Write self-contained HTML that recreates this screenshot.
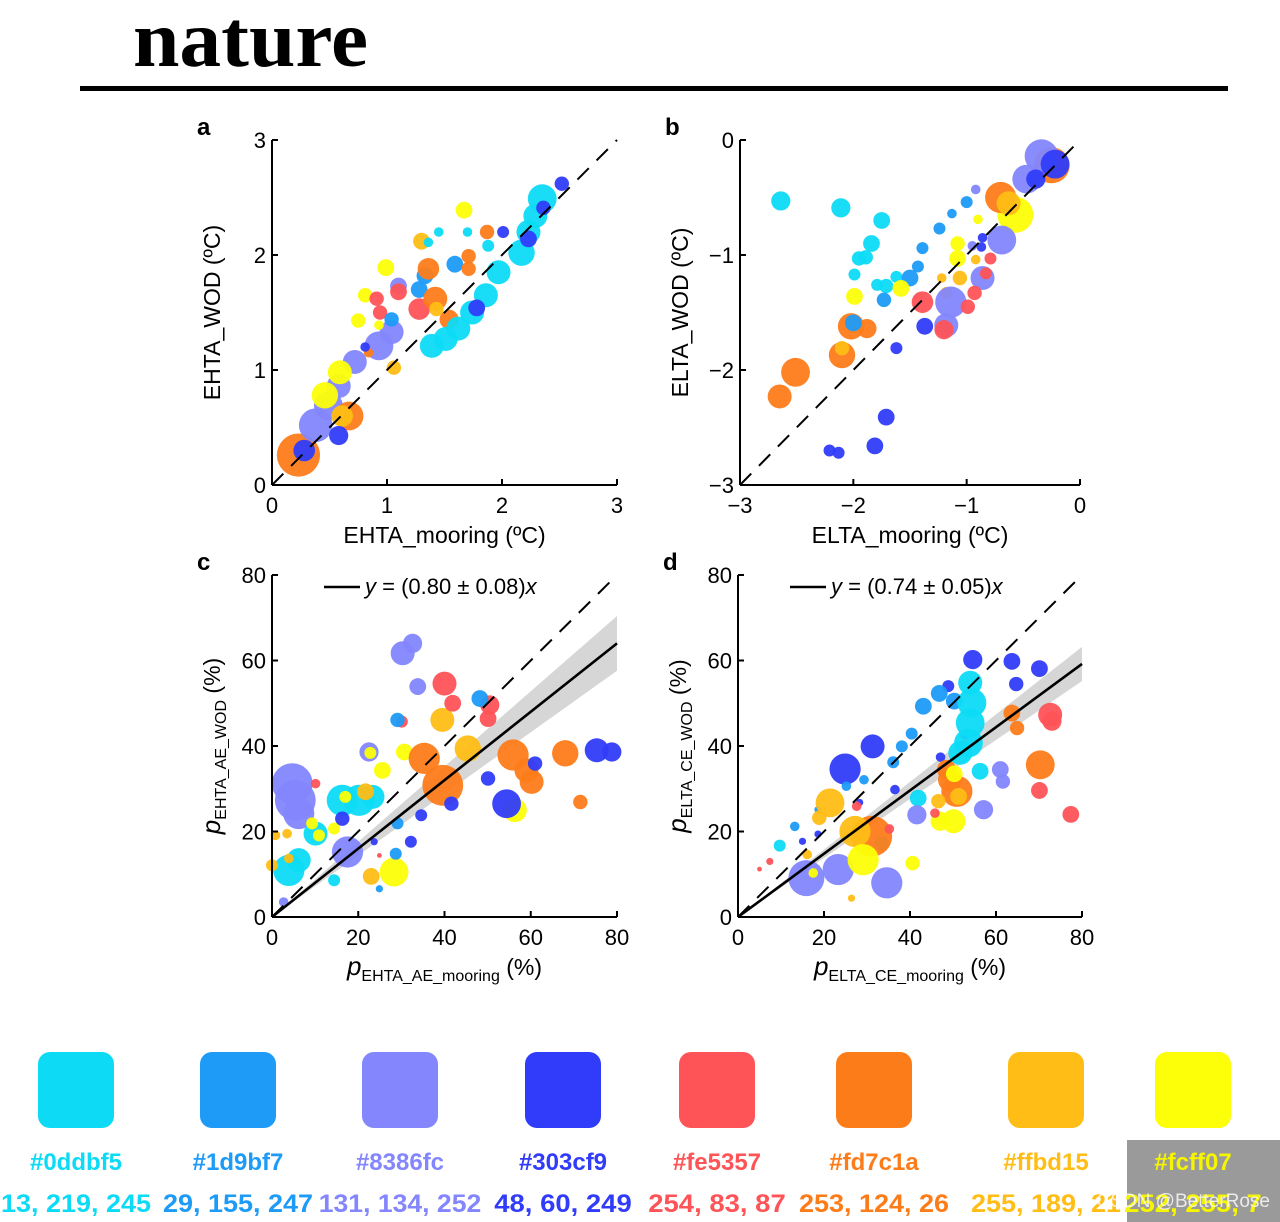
<!DOCTYPE html>
<html><head><meta charset="utf-8">
<style>
html,body{margin:0;padding:0;background:#fff;}
svg{display:block;font-family:"Liberation Sans",Arial,sans-serif;}
</style></head>
<body>
<svg id="fig" width="1280" height="1222" viewBox="0 0 1280 1222" xmlns="http://www.w3.org/2000/svg">
<text x="133" y="66" font-family="Liberation Serif,serif" font-weight="bold" font-size="80" textLength="235" lengthAdjust="spacingAndGlyphs">nature</text>
<rect x="80" y="86" width="1148" height="5" fill="#000"/>
<g id="plots"></g>
<g id="swatches"></g>
</svg>
<script>
const COLORS = ['#0ddbf5','#1d9bf7','#8386fc','#303cf9','#fe5357','#fd7c1a','#ffbd15','#fcff07'];
const RGBS = ['13, 219, 245','29, 155, 247','131, 134, 252','48, 60, 249','254, 83, 87','253, 124, 26','255, 189, 21','252, 255, 7'];

// Panel a
const aX = [0.23,0.28,0.38,0.49,0.58,0.72,0.93,1.04,1.1,0.46,0.59,0.99,1.67,0.81,0.75,0.93,0.67,0.61,0.58,0.84,1.06,0.91,0.94,1.1,1.28,1.04,1.33,1.59,1.28,1.36,1.42,1.71,1.71,1.87,1.54,1.30,1.43,1.39,1.51,1.62,1.74,1.86,1.97,2.17,2.23,2.29,2.35,1.36,1.45,1.70,1.88,2.52,2.36,2.23,2.01,1.78,0.81];
const aY = [0.26,0.30,0.52,0.69,0.86,1.07,1.21,1.33,1.73,0.78,0.98,1.89,2.39,1.65,1.43,1.39,0.60,0.60,0.43,1.15,1.02,1.62,1.50,1.68,1.53,1.44,1.82,1.92,1.70,1.88,1.62,1.99,1.88,2.20,1.44,2.12,1.53,1.21,1.27,1.36,1.50,1.65,1.85,2.02,2.20,2.34,2.49,2.11,2.20,2.20,2.08,2.62,2.41,2.14,2.20,1.54,1.20];
const aSize = [18,9,14,12,10,10,12,10,7,11,10,7,7,6,6,4,12,9,8,4,6,6,6,7,9,6,7,7,7,9,10,6,6,6,8,7,6,10,10,10,10,10,10,11,10,10,12,4,4,4,5,6,6,7,5,7,4];
const aCol = [5,3,2,2,2,2,2,2,2,7,7,7,7,7,7,7,5,6,3,5,6,4,4,4,4,1,1,1,1,5,5,5,5,5,5,6,6,0,0,0,0,0,0,0,0,0,0,0,0,0,0,3,3,3,3,3,3];

// Panel b
const bX = [-2.64,-2.11,-1.75,-1.84,-1.95,-1.89,-1.99,-1.79,-1.71,-1.62,-1.73,-1.50,-1.43,-1.39,-1.24,-1.13,-1.0,-1.99,-1.58,-1.08,-1.08,-0.57,-0.90,-2.02,-1.88,-2.10,-2.51,-2.65,-0.70,-0.25,-2.10,-0.63,-1.22,-1.18,-1.06,-0.92,-0.34,-0.47,-0.69,-1.14,-1.18,-0.86,-0.92,-0.95,-1.39,-1.20,-0.99,-0.93,-0.83,-0.79,-0.22,-0.39,-1.37,-1.62,-1.71,-1.81,-2.21,-2.13,-0.86,-0.87,-2.0];
const bY = [-0.53,-0.59,-0.70,-0.90,-1.03,-1.02,-1.17,-1.26,-1.27,-1.19,-1.39,-1.20,-1.10,-0.94,-0.77,-0.64,-0.54,-1.36,-1.29,-0.90,-1.03,-0.65,-0.69,-1.62,-1.64,-1.87,-2.02,-2.23,-0.50,-0.22,-1.81,-0.55,-1.20,-1.33,-1.20,-1.04,-0.14,-0.34,-0.87,-1.41,-1.61,-1.20,-0.43,-0.92,-1.41,-1.65,-1.45,-1.33,-1.16,-1.03,-0.21,-0.34,-1.62,-1.81,-2.41,-2.66,-2.70,-2.72,-0.85,-0.93,-1.59];
const bSize = [8,8,7,7,6,6,5,5,6,5,6,7,5,5,5,4,5,7,7,6,7,15,4,11,8,11,12,10,13,15,6,10,4,5,6,4,14,12,12,13,10,10,4,4,9,8,6,6,5,5,12,8,7,5,7,7,5,5,4,4,7];
const bCol = [0,0,0,0,0,0,0,0,0,0,1,1,1,1,1,1,1,7,7,7,7,7,7,5,5,5,5,5,5,5,6,6,6,6,6,6,2,2,2,2,2,2,2,2,4,4,4,4,4,4,3,3,3,3,3,3,3,3,3,3,1];

// Panel c
const cX = [4.7,5.4,6.2,30.3,32.6,33.8,17.5,22.5,3.9,6.2,10.1,16.3,20.2,23.3,14.4,22.8,25.6,30.7,28.3,56.3,9.3,10.9,14.4,17,35.3,39.6,55.9,59,60.2,68,71.5,39.5,45.4,21.7,23,0,0.8,3.5,3.9,40,41.9,50.5,50.1,10.1,30.1,24.9,48.2,29.1,29.1,28.7,24.9,75.3,78.8,61,54.4,50.1,41.6,34.6,32.2,16.3,23.7,2.7];
const cY = [31.2,27.3,24.2,61.7,64,53.9,15.2,38.6,10.9,13.3,19.5,27.3,27.3,28.1,8.6,38.4,34.3,38.6,10.5,25,21.9,19.1,20.7,28.1,37.1,30.8,37.9,34.3,31.6,38.3,26.9,46.1,39.4,29.3,9.5,12.1,19.1,19.5,13.7,54.6,50,49.6,46.4,31.2,45.7,14.4,51.1,46.1,21.9,14.8,6.6,39,38.6,35.9,26.5,32.4,26.5,23.8,17.6,23,17.6,3.5];
const cSize = [17,17,13,10,8,7,13,8,13,10,10,13,13,10,5,5,7,7,12,10,5,5,5,5,13,17,13,10,10,11,6,10,11,7,7,5,4,4,4,10,7,8,7,4,5,2,7,6,5,5,3,10,8,6,12,6,6,5,5,6,3,4];
const cCol = [2,2,2,2,2,2,2,2,0,0,0,0,0,0,0,7,7,7,7,7,7,7,7,7,5,5,5,5,5,5,5,6,6,6,6,6,6,6,6,4,4,4,4,4,4,4,1,1,1,1,1,3,3,3,3,3,3,3,3,3,3,2];

// Panel d
const dX = [54.6,63.7,70.1,64.7,48.9,31.3,24.9,36.5,52.8,47.1,18.6,15,28.3,46.8,43.1,50.3,40.4,38.1,36.1,29.3,25.2,13.2,18.6,54,54.4,54,53.6,51.7,56.3,41.9,9.7,33.4,61,61.6,57.1,41.6,15.9,23.3,34.6,70.3,63.7,64.9,50.9,31.1,48.5,49.3,21.4,18.9,27.2,51.3,46.6,16.1,26.4,29.1,47,50.1,50.3,40.6,17.5,72.6,73,70.1,77.4,27.6,45.8,7.4,5,35.2];
const dY = [60.2,59.8,58.1,54.5,54,39.9,34.6,29.8,42.7,37.4,19.4,17.7,26.8,52.3,49.3,50.5,42.9,39.9,36.2,32.1,30.6,21.2,25.1,54.8,50.1,45.4,40.7,38.4,34.1,27.8,16.7,17.3,34.5,31.7,25.1,23.9,9.1,11.1,8,35.6,47.7,44.2,29.4,18.9,34.5,32.1,26.7,23.2,20,28.2,27.1,14.6,4.4,13.4,22.4,22.4,33.5,12.6,10.3,47.3,45.8,29.6,24,25.9,24.3,13,11.2,20.6];
const dSize = [8,7,7,6,5,10,13,4,4,4,3,3,3,7,7,7,5,5,5,4,4,4,3,10,12,12,12,10,7,7,5,6,7,6,8,8,15,13,13,12,7,6,13,17,8,10,12,6,13,7,6,4,3,13,8,10,7,6,4,10,8,7,7,4,4,3,2,4];
const dCol = [3,3,3,3,3,3,3,3,3,3,3,3,3,1,1,1,1,1,1,1,1,1,1,0,0,0,0,0,0,0,0,0,2,2,2,2,2,2,2,5,5,5,5,5,5,5,6,6,6,6,6,6,6,7,7,7,7,7,7,4,4,4,4,4,4,4,4,4];

// axis ticks & fits
const aTicks = [0,1,2,3];
const bTicks = [-3,-2,-1,0];
const cTicks = [0,20,40,60,80];
const cSlope = 0.80, cErr = 0.08;
const dSlope = 0.74, dErr = 0.05;

const NS = 'http://www.w3.org/2000/svg';
const RSCALE = 1.2;
function mk(tag, attrs, parent){
  const e = document.createElementNS(NS, tag);
  for (const k in attrs) e.setAttribute(k, attrs[k]);
  parent.appendChild(e);
  return e;
}
const plots = document.getElementById('plots');

function panel(id, px0, px1, py0, py1, dmin, dmax, ticks, xs, ys, ss, cs, fit, letter, xTitle, yTitle) {
  const g = mk('g', {}, plots);
  
  
  const sx = v => px0 + (v - dmin) / (dmax - dmin) * (px1 - px0);
  const sy = v => py0 - (v - dmin) / (dmax - dmin) * (py0 - py1);
  if (fit) {
    const band = mk('polygon', {points: `${sx(0)},${sy(0)} ${sx(dmax)},${sy(dmax*(fit[0]+fit[1]))} ${sx(dmax)},${sy(dmax*(fit[0]-fit[1]))}`, fill:'#cfcfcf', opacity:'0.85'}, g);
    
    
  }
  const pg = mk('g', {}, g);
  
  
  for (let i = 0; i < xs.length; i++) {
    const c = mk('circle', {cx: sx(xs[i]), cy: sy(ys[i]), r: ss[i] * RSCALE, fill: COLORS[cs[i]], 'fill-opacity': '0.95'}, pg);
    
    
  }
  const d = mk('line', {x1: sx(dmin), y1: sy(dmin), x2: sx(dmax), y2: sy(dmax), stroke:'#000', 'stroke-width':'2', 'stroke-dasharray':'16 11'}, g);
  
  
  if (fit) {
    const fl = mk('line', {x1: sx(0), y1: sy(0), x2: sx(dmax), y2: sy(dmax*fit[0]), stroke:'#000', 'stroke-width':'2.6'}, g);
    
    
    const lg = mk('g', {}, g);
    
    
    mk('line', {x1: px0 + 52, y1: py1 + 12, x2: px0 + 88, y2: py1 + 12, stroke:'#000', 'stroke-width':'2.6'}, lg);
    const t = mk('text', {x: px0 + 93, y: py1 + 19, 'font-size':'22'}, lg);
    t.innerHTML = `<tspan font-style="italic">y</tspan> = (${fit[0].toFixed(2)} ± ${fit[1].toFixed(2)})<tspan font-style="italic">x</tspan>`;
  }
  const ax = mk('g', {stroke:'#000', 'stroke-width':'2', fill:'none'}, g);
  
  
  mk('line', {x1: px0, y1: py0, x2: px1, y2: py0}, ax);
  mk('line', {x1: px0, y1: py0, x2: px0, y2: py1}, ax);
  ticks.forEach(v => {
    mk('line', {x1: sx(v), y1: py0, x2: sx(v), y2: py0 - 6}, ax);
    mk('line', {x1: px0, y1: sy(v), x2: px0 + 6, y2: sy(v)}, ax);
  });
  const lab = v => (v < 0 ? '\u2212' + Math.abs(v) : '' + v);
  ticks.forEach(v => {
    const tx = mk('text', {x: sx(v), y: py0 + 28, 'font-size':'22', 'text-anchor':'middle'}, g);
    tx.textContent = lab(v);
    
    
    const ty = mk('text', {x: px0 - 6, y: sy(v) + 8, 'font-size':'22', 'text-anchor':'end'}, g);
    ty.textContent = lab(v);
    
    
  });
  const L = mk('text', {x: px0 - 75, y: py1 - 5, 'font-size':'24', 'font-weight':'bold'}, g);
  L.textContent = letter;
  
  
  const xt = mk('text', {x: (px0 + px1) / 2, y: py0 + 58, 'font-size':'23', 'text-anchor':'middle'}, g);
  xt.innerHTML = xTitle;
  
  
  const cy = (py0 + py1) / 2, cx = px0 - 52;
  const yt = mk('text', {x: cx, y: cy, 'font-size':'23', 'text-anchor':'middle', transform: `rotate(-90 ${cx} ${cy})`}, g);
  yt.innerHTML = yTitle;
  
  
}

const sub = (p, s) => `<tspan font-style="italic" font-size="26">${p}</tspan><tspan font-size="16" dy="6">${s}</tspan><tspan dy="-6"> (%)</tspan>`;
panel('a', 272, 617, 485, 140, 0, 3, aTicks, aX, aY, aSize, aCol, null, 'a', 'EHTA_mooring (ºC)', 'EHTA_WOD (ºC)');
panel('b', 740, 1080, 485, 140, -3, 0, bTicks, bX, bY, bSize, bCol, null, 'b', 'ELTA_mooring (ºC)', 'ELTA_WOD (ºC)');
panel('c', 272, 617, 917, 575, 0, 80, cTicks, cX, cY, cSize, cCol, [cSlope, cErr], 'c', sub('p','EHTA_AE_mooring'), sub('p','EHTA_AE_WOD'));
panel('d', 738, 1082, 917, 575, 0, 80, cTicks, dX, dY, dSize, dCol, [dSlope, dErr], 'd', sub('p','ELTA_CE_mooring'), sub('p','ELTA_CE_WOD'));

const sw = document.getElementById('swatches');
const swX = [38,200,362,525,679,836,1008,1155];
const wm = mk('rect', {x:1127, y:1140, width:153, height:82, fill:'#9a9a9a'}, sw);


for (let i = 0; i < 8; i++) {
  const col = COLORS[i] === '#fcff07' ? '#f5f500' : COLORS[i];
  const r = mk('rect', {x: swX[i], y: 1052, width: 76, height: 76, rx: 12, fill: COLORS[i]}, sw);
  
  
  const t1 = mk('text', {x: swX[i] + 38, y: 1170, 'font-size':'24', 'font-weight':'bold', 'text-anchor':'middle', fill: col}, sw);
  t1.textContent = COLORS[i];
  
  
  const t2 = mk('text', {x: swX[i] + 38, y: 1212, 'font-size':'25', 'font-weight':'bold', 'text-anchor':'middle', fill: col, textLength: RGBS[i].length * 12.5, lengthAdjust:'spacingAndGlyphs'}, sw);
  t2.textContent = RGBS[i];
  
  
}
const wt = mk('text', {x: 1270, y: 1207, 'font-size':'19', 'text-anchor':'end', fill:'#ffffff', 'fill-opacity':'0.8'}, sw);
wt.textContent = 'CSDN @BetterRose';


</script>
</body></html>
